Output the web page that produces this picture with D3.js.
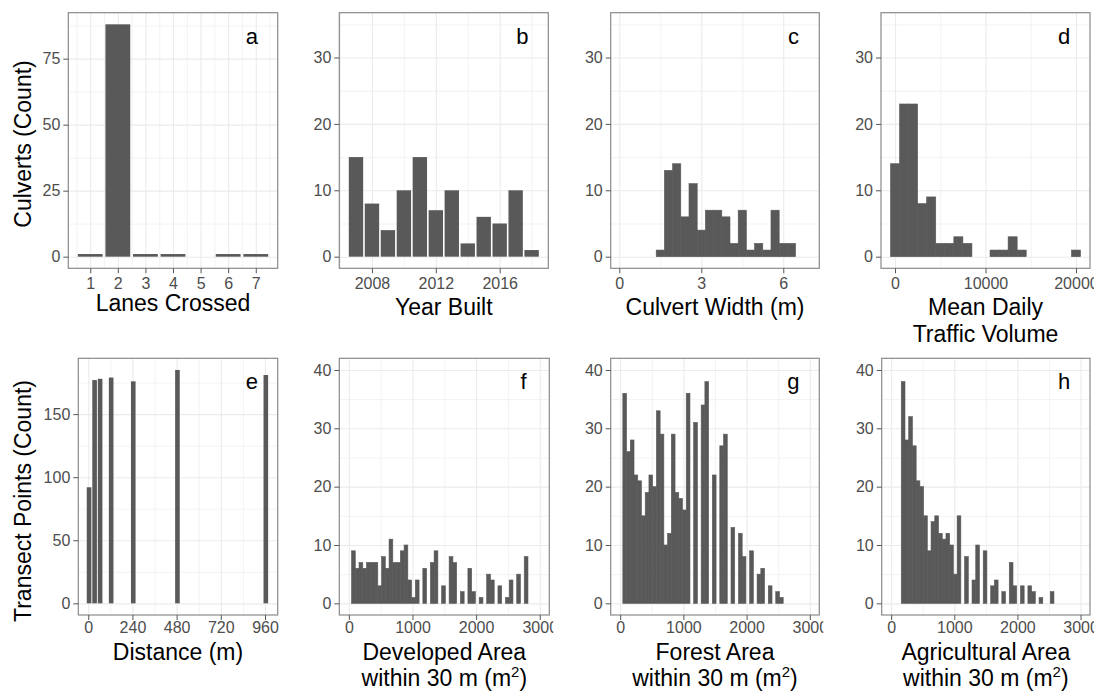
<!DOCTYPE html>
<html>
<head>
<meta charset="utf-8">
<script src="https://cdn.jsdelivr.net/npm/d3@7"></script>
<style>
  body { margin: 0; background: #fff; }
  svg { display: block; font-family: "Liberation Sans", Arial, sans-serif; }
  .grid .domain, .axis .domain { display: none; }
  .grid line { stroke: #ebebeb; }
  .grid.major line { stroke-width: 1.1; }
  .grid.minor line { stroke-width: 0.6; }
  .axis line { stroke: #555; stroke-width: 1; }
  .axis text { font-size: 16px; fill: #4d4d4d; }
  .title { font-size: 23px; fill: #000; }
  .letter { font-size: 22px; fill: #000; }
</style>
</head>
<body>
<div id="chart"></div>
<script>
// ---- data ----
// a: lanes crossed
const lanes = [1, 2, 3, 4, 5, 6, 7];
const laneCounts = [1, 88, 1, 1, 0, 1, 1];
// b: year built
const years = [2007, 2008, 2009, 2010, 2011, 2012, 2013, 2014, 2015, 2016, 2017, 2018];
const yearCounts = [15, 8, 4, 10, 15, 7, 10, 2, 6, 5, 10, 1];
// c: culvert width histogram (bins of 0.3 m from 1.35 m)
const widthBinStart = 1.35, widthBinSize = 0.3;
const widthCounts = [1, 13, 14, 6, 11, 4, 7, 7, 6, 2, 7, 1, 2, 1, 7, 2, 2];
// d: traffic volume histogram (bins of 1000 from -500)
const trafficBinStart = -500, trafficBinSize = 1000;
const trafficCounts = [14, 23, 23, 8, 9, 2, 2, 3, 2, 0, 0, 1, 1, 3, 1, 0, 0, 0, 0, 0, 1];
// e: transect points by distance
const distances = [0, 30, 60, 120, 240, 480, 960];
const distanceCounts = [92, 177, 178, 179, 176, 185, 181];
// f, g, h: land cover area histograms (same bins)
const areaBinStart = 42, areaBinSize = 59;
const developedCounts = [9, 6, 7, 6, 7, 7, 7, 3, 8, 6, 11, 7, 7, 9, 10, 4, 1, 4, 0, 6, 0, 7, 9, 0, 3, 0, 8, 7, 0, 2,
  0, 6, 2, 0, 1, 0, 5, 4, 0, 3, 0, 1, 4, 0, 5, 0, 8];
const forestCounts = [36, 26, 28, 22, 21, 15, 19, 22, 20, 33, 29, 10, 12, 29, 19, 18, 16, 36, 0, 31, 0, 34, 38, 0, 22, 0, 27, 29, 0, 13,
  0, 12, 8, 0, 9, 0, 5, 6, 0, 3, 0, 2, 1];
const agriculturalCounts = [0, 0, 38, 28, 32, 27, 21, 20, 15, 9, 14, 15, 12, 11, 12, 10, 5, 15, 0, 8, 0, 4, 10, 0, 9, 0, 3, 4, 0, 2,
  0, 7, 3, 0, 3, 0, 3, 2, 0, 1, 0, 0, 2];

// tick labels
const laneTicks = [1, 2, 3, 4, 5, 6, 7];
const yearTicks = [2008, 2012, 2016];
const widthTicks = [0, 3, 6];
const trafficTicks = [0, 10000, 20000];
const distanceTicks = [0, 240, 480, 720, 960];
const areaTicks = [0, 1000, 2000, 3000];
const count75Ticks = [0, 25, 50, 75];
const count30Ticks = [0, 10, 20, 30];
const count150Ticks = [0, 50, 100, 150];
const count40Ticks = [0, 10, 20, 30, 40];

// ---- bar builders ----
const barsFromCategories = (cats, counts) => cats.map((c, i) => ({x0: c - 0.45, x1: c + 0.45, n: counts[i]}));
const barsFromBins = (start, size, counts) => counts.map((n, i) => ({x0: start + i * size, x1: start + (i + 1) * size, n: n}));
const barsFromDistances = (ds, counts) => ds.map((d, i) => ({x0: d - 8, x1: d + 17, n: counts[i]}));
const midpoints = ticks => ticks.slice(1).map((t, i) => (t + ticks[i]) / 2);

const svg = d3.select("#chart")
  .append("svg")
    .attr("width", 1101)
    .attr("height", 696);

svg.append("rect").attr("width", 1101).attr("height", 696).attr("fill", "#fff");

const rows = [
  {top: 12.7, bottom: 268.3, tickPad: 4, titleY: [315, 342], yTitleY: 144, yTitle: "Culverts (Count)"},
  {top: 358.3, bottom: 615, tickPad: 1.5, titleY: [659.5, 685.5], yTitleY: 501, yTitle: "Transect Points (Count)"}
];

const panels = [
  {letter: "a", row: 0, left: 68.3, right: 277.7, xDomain: [0.205, 7.795], xTicks: laneTicks,
   xMinor: [0.5].concat(midpoints(laneTicks), [7.5]), yDomain: [-4.4, 92.4], yTicks: count75Ticks,
   yMinor: [12.5, 37.5, 62.5, 87.5], bars: barsFromCategories(lanes, laneCounts),
   title: [["Lanes Crossed"]], titleY: [311], hist: false},
  {letter: "b", row: 0, left: 339.3, right: 548.3, xDomain: [2005.955, 2019.045], xTicks: yearTicks,
   xMinor: [2006, 2010, 2014, 2018], yDomain: [-1.75, 36.75], yTicks: count30Ticks,
   yMinor: [5, 15, 25, 35], bars: barsFromCategories(years, yearCounts), title: [["Year Built"]], hist: false},
  {letter: "c", row: 0, left: 610.7, right: 819.3, xDomain: [-0.315, 7.318], xTicks: widthTicks,
   xMinor: [1.5, 4.5], yDomain: [-1.75, 36.75], yTicks: count30Ticks, yMinor: [5, 15, 25, 35],
   bars: barsFromBins(widthBinStart, widthBinSize, widthCounts), title: [["Culvert Width (m)"]], hist: true},
  {letter: "d", row: 0, left: 881, right: 1090, xDomain: [-1550, 21550], xTicks: trafficTicks,
   xMinor: [5000, 15000], yDomain: [-1.75, 36.75], yTicks: count30Ticks, yMinor: [5, 15, 25, 35],
   bars: barsFromBins(trafficBinStart, trafficBinSize, trafficCounts), title: [["Mean Daily"], ["Traffic Volume"]], hist: true},
  {letter: "e", row: 1, left: 78.3, right: 277.7, xDomain: [-54, 1029], xTicks: distanceTicks,
   xMinor: midpoints(distanceTicks), yDomain: [-9.25, 194.25], yTicks: count150Ticks,
   yMinor: [25, 75, 125, 175], bars: barsFromDistances(distances, distanceCounts), title: [["Distance (m)"]], hist: false},
  {letter: "f", row: 1, left: 339.3, right: 549.3, xDomain: [-150, 3150], xTicks: areaTicks,
   xMinor: midpoints(areaTicks), yDomain: [-2, 42], yTicks: count40Ticks, yMinor: [5, 15, 25, 35],
   bars: barsFromBins(areaBinStart, areaBinSize, developedCounts),
   title: [["Developed Area"], ["within 30 m (m", "2", ")"]], hist: true},
  {letter: "g", row: 1, left: 610.7, right: 819.3, xDomain: [-150, 3150], xTicks: areaTicks,
   xMinor: midpoints(areaTicks), yDomain: [-2, 42], yTicks: count40Ticks, yMinor: [5, 15, 25, 35],
   bars: barsFromBins(areaBinStart, areaBinSize, forestCounts),
   title: [["Forest Area"], ["within 30 m (m", "2", ")"]], hist: true},
  {letter: "h", row: 1, left: 881.7, right: 1090, xDomain: [-150, 3150], xTicks: areaTicks,
   xMinor: midpoints(areaTicks), yDomain: [-2, 42], yTicks: count40Ticks, yMinor: [5, 15, 25, 35],
   bars: barsFromBins(areaBinStart, areaBinSize, agriculturalCounts),
   title: [["Agricultural Area"], ["within 30 m (m", "2", ")"]], hist: true}
];

panels.forEach(function(p, idx) {
  const row = rows[p.row];
  const w = p.right - p.left;
  const h = row.bottom - row.top;

  // each sub-figure is clipped a little right of its panel (cuts the last tick label)
  svg.append("clipPath").attr("id", "clip" + idx)
    .append("rect")
      .attr("x", p.left - 80).attr("y", 0)
      .attr("width", w + 84).attr("height", 696);

  const outer = svg.append("g").attr("clip-path", `url(#clip${idx})`);
  const g = outer.append("g").attr("transform", `translate(${p.left},${row.top})`);

  const x = d3.scaleLinear().domain(p.xDomain).range([0, w]);
  const y = d3.scaleLinear().domain(p.yDomain).range([h, 0]);

  // grid lines
  g.append("g").attr("class", "grid minor")
    .call(d3.axisLeft(y).tickValues(p.yMinor).tickSize(-w).tickFormat(""));
  g.append("g").attr("class", "grid minor")
    .attr("transform", `translate(0,${h})`)
    .call(d3.axisBottom(x).tickValues(p.xMinor).tickSize(h).tickFormat(""))
    .selectAll("line").attr("y2", -h);
  g.append("g").attr("class", "grid major")
    .call(d3.axisLeft(y).tickValues(p.yTicks).tickSize(-w).tickFormat(""));
  g.append("g").attr("class", "grid major")
    .attr("transform", `translate(0,${h})`)
    .call(d3.axisBottom(x).tickValues(p.xTicks).tickSize(h).tickFormat(""))
    .selectAll("line").attr("y2", -h);

  // bars (histogram bins get a same-colour edge so neighbours join without seams)
  g.append("g")
    .selectAll("rect")
    .data(p.bars.filter(d => d.n > 0))
    .join("rect")
      .attr("x", d => x(d.x0))
      .attr("y", d => y(d.n))
      .attr("width", d => x(d.x1) - x(d.x0))
      .attr("height", d => y(0) - y(d.n))
      .attr("fill", "#595959")
      .attr("stroke", p.hist ? "#595959" : "none")
      .attr("stroke-width", 0.6);

  // panel border
  g.append("rect")
    .attr("width", w).attr("height", h)
    .attr("fill", "none")
    .attr("stroke", "#8a8a8a")
    .attr("stroke-width", 1.2);

  // axes
  g.append("g").attr("class", "axis")
    .call(d3.axisLeft(y).tickValues(p.yTicks).tickSize(5).tickPadding(3).tickFormat(d3.format("d")));
  g.append("g").attr("class", "axis")
    .attr("transform", `translate(0,${h})`)
    .call(d3.axisBottom(x).tickValues(p.xTicks).tickSize(5).tickPadding(row.tickPad).tickFormat(d3.format("d")));

  // panel letter
  g.append("text")
    .attr("class", "letter")
    .attr("x", w - 25.8)
    .attr("y", 31)
    .attr("text-anchor", "middle")
    .text(p.letter);

  // x axis title (one or two lines, optional superscript)
  const ty = p.titleY || row.titleY;
  p.title.forEach(function(parts, li) {
    const t = outer.append("text")
      .attr("class", "title")
      .attr("x", p.left + w / 2)
      .attr("y", ty[li])
      .attr("text-anchor", "middle");
    t.append("tspan").text(parts[0]);
    if (parts.length > 1) {
      t.append("tspan").attr("dy", -9).attr("font-size", 15).text(parts[1]);
      t.append("tspan").attr("dy", 9).text(parts[2]);
    }
  });
});

// y axis titles
rows.forEach(function(r) {
  svg.append("text")
    .attr("class", "title")
    .attr("transform", `translate(30.5,${r.yTitleY}) rotate(-90)`)
    .attr("text-anchor", "middle")
    .text(r.yTitle);
});
</script>
</body>
</html>
